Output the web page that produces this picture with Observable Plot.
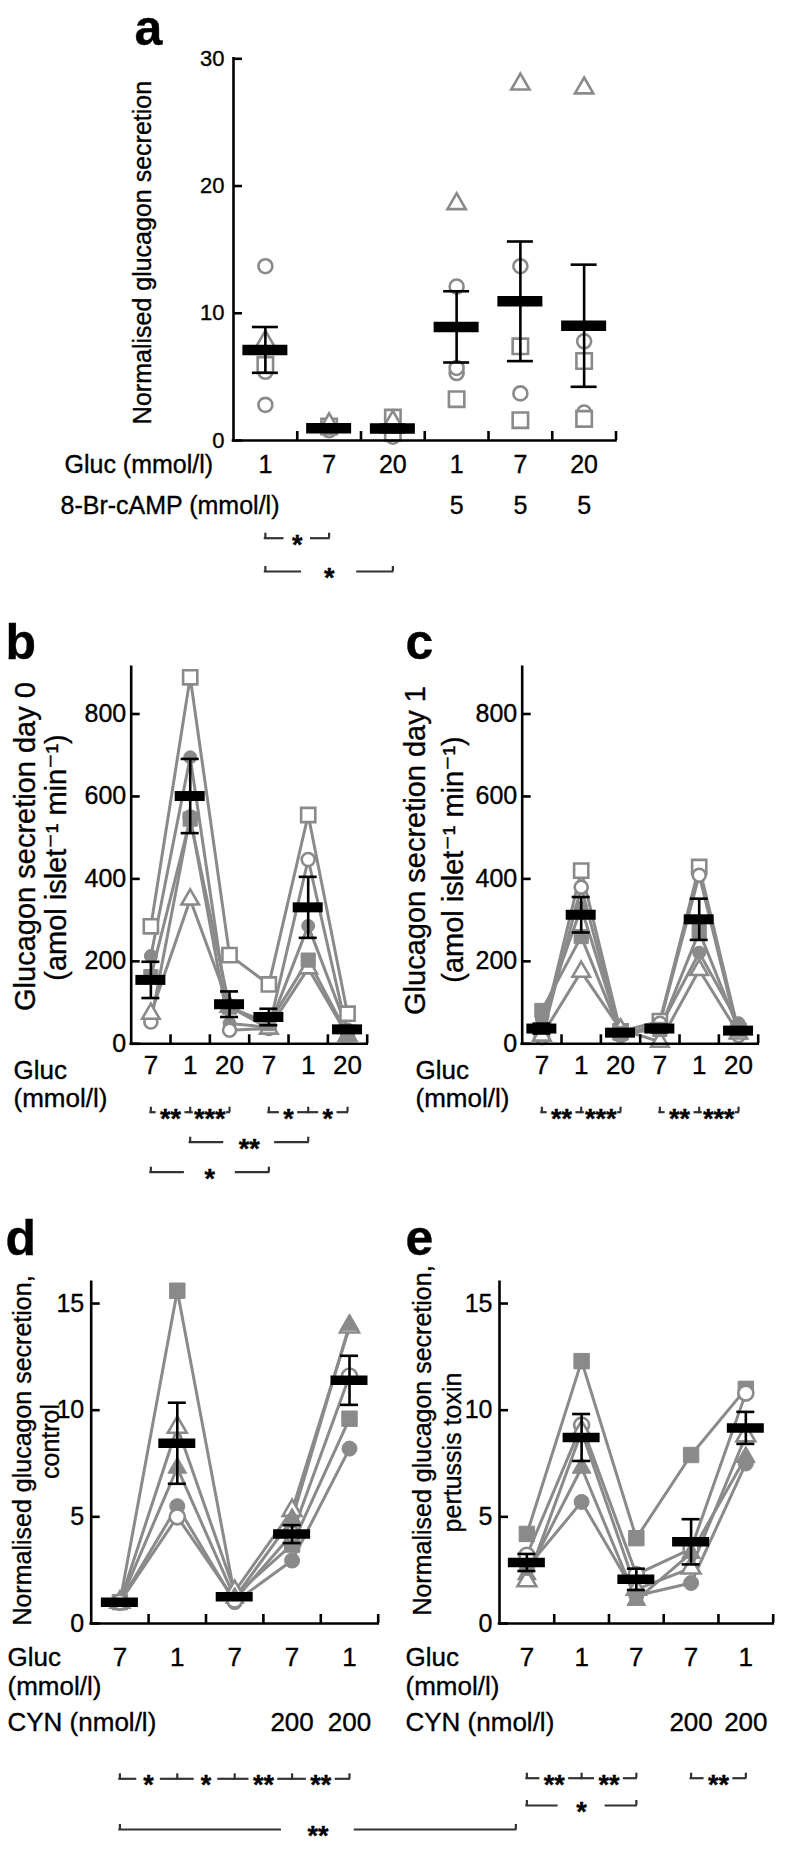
<!DOCTYPE html>
<html><head><meta charset="utf-8">
<script src="https://cdn.jsdelivr.net/npm/d3@7"></script>
<script src="https://cdn.jsdelivr.net/npm/@observablehq/plot@0.6"></script>
<style>
body{margin:0;background:#fff;}
#fig{position:relative;width:786px;height:1856px;overflow:hidden;background:#fff;}
#fig svg{position:absolute;left:0;max-width:none;}
#fig svg text{stroke:#000;stroke-width:0.35px;}
</style></head><body><div id="fig"></div>
<script>
// ---------------- data ----------------
// panel a
const aGluc = ["1","7","20","1","7","20"];
const aCamp = ["","","","5","5","5"];
const aCircles = [[13.7,2.8,5.4],[1.0,0.9,0.8],[0.3,0.9],[12.1,5.3,5.7],[13.7,3.7],[7.8,2.2]];
const aSquares = [[5.95],[1.1],[1.8,0.6],[3.25],[7.4,1.6],[6.25,1.7]];
const aTriangles = [[7.8],[1.3],[1.5],[18.6],[28.0],[27.7]];
const aMean = [7.12,0.96,0.95,8.93,10.94,9.02];
const aSem = [1.8,0.1,0.3,2.8,4.7,4.8];
const aTicks = [0,10,20,30];
// panel b (day 0)
const bGluc = ["7","1","20","7","1","20"];
const bOpenSquare = [285,889,215,144,555,73];
const bFilledCircle = [213,695,49,40,286,35];
const bOpenCircle = [53,550,33,37,447,25];
const bOpenTriangle = [73,350,90,37,183,20];
const bFilledSquare = [163,545,89,49,203,22];
const bMean = [155,601,96,65,331,35];
const bSem = [44,90,31,20,74,8];
// panel c (day 1)
const cGluc = ["7","1","20","7","1","20"];
const cOpenSquare = [25,420,30,55,429,30];
const cFilledCircle = [60,330,25,40,221,50];
const cOpenCircle = [15,380,20,50,409,20];
const cOpenTriangle = [20,175,35,5,179,25];
const cFilledSquare = [81,260,25,35,272,35];
const cMean = [37,313,27,37,302,32];
const cSem = [12,43,3,9,50,6];
const bcTicks = [0,200,400,600,800];
// panel d (control)
const dGluc = ["7","1","7","7","1"];
const dCyn = ["","","","200","200"];
const dFilledSquare = [1.0,15.6,1.3,3.7,9.6];
const dOpenTriangle = [1.0,9.2,1.5,5.3,13.9];
const dFilledTriangle = [1.0,7.3,1.2,4.9,14.0];
const dFilledCircle = [1.0,5.5,1.0,2.95,8.2];
const dOpenCircle = [1.0,5.0,1.1,4.2,11.6];
const dMean = [1.0,8.45,1.25,4.19,11.4];
const dSem = [0.05,1.9,0.12,0.42,1.15];
// panel e (pertussis toxin)
const eGluc = ["7","1","7","7","1"];
const eCyn = ["","","","200","200"];
const eFilledSquare = [4.2,12.3,4.0,7.9,11.0];
const eOpenCircle = [3.2,9.3,2.3,3.5,10.8];
const eFilledTriangle = [2.3,7.3,1.1,3.3,7.8];
const eOpenTriangle = [2.0,9.0,1.6,2.6,8.8];
const eFilledCircle = [2.6,5.7,1.3,1.9,7.5];
const eMean = [2.86,8.72,2.07,3.83,9.17];
const eSem = [0.4,1.1,0.5,1.06,0.75];
const deTicks = [0,5,10,15];
// significance brackets (group indices, star labels)
const aBrackets = [{row:0,at:[0,1],stars:["*"]},{row:1,at:[0,2],stars:["*"]}];
const bBrackets = [{row:0,at:[0,1,2],stars:["**","***"]},{row:0,at:[3,4,5],stars:["*","*"]},{row:1,at:[1,4],stars:["**"]},{row:2,at:[0,3],stars:["*"]}];
const cBrackets = [{row:0,at:[0,1,2],stars:["**","***"]},{row:0,at:[3,4,5],stars:["**","***"]}];
const dBrackets = [{row:0,at:[0,1,2,3,4],stars:["*","*","**","**"]}];
const deBracket = {stars:["**"]}; // d group 0 to e group 0
const eBrackets = [{row:0,at:[0,1,2],stars:["**","**"]},{row:0,at:[3,4],stars:["**"]},{row:1,at:[0,2],stars:["*"]}];

// ---------------- drawing ----------------
const FONT = "'Liberation Sans', Arial, Helvetica, 'DejaVu Sans', sans-serif";
const GRAY = "#8a8a8a";
const STARFS = 27;
const fig = document.getElementById("fig");

function makePanel(P) {
  const n = P.cats.length;
  const kx = (P.fx1 - P.fx0) / n;
  const ky = (P.fyB - P.fyT) / P.ymax;
  const X = px => (px - P.fx0) / kx - 0.5;
  const Y = py => (P.fyB - py) / ky;
  const ux = px => px / kx, uy = py => py / ky;
  const marks = [];
  const seriesPts = P.series.map(s => s.groups
    ? s.groups.flatMap((arr, i) => arr.map(v => ({i, v})))
    : s.vals.map((v, i) => ({i, v})));
  if (P.lines) seriesPts.forEach(pts => marks.push(Plot.line(pts, {x:"i", y:"v", stroke:GRAY, strokeWidth:3})));
  P.series.forEach((s, k) => marks.push(Plot.dot(seriesPts[k], {
    x:"i", y:"v", symbol:s.symbol, r:P.r[s.symbol],
    fill: s.filled ? GRAY : "white", stroke: GRAY, strokeWidth: s.filled ? 1 : 2.6
  })));
  const stats = P.mean.map((m, i) => ({i, m, lo: m - P.sem[i], hi: m + P.sem[i]}));
  marks.push(Plot.ruleX(stats, {x:"i", y1:"lo", y2:"hi", stroke:"black", strokeWidth:2.6}));
  for (const key of ["lo","hi"]) marks.push(Plot.ruleY(stats, {y:key, x1:d => d.i - ux(P.cap), x2:d => d.i + ux(P.cap), stroke:"black", strokeWidth:2.6}));
  marks.push(Plot.ruleY(stats, {y:"m", x1:d => d.i - ux(P.barW/2), x2:d => d.i + ux(P.barW/2), stroke:"black", strokeWidth:P.barH}));
  marks.push(Plot.ruleX([-0.5], {x:d => d, y1:() => 0, y2:() => P.ymax, stroke:"black", strokeWidth:2.6, strokeLinecap:"square"}));
  marks.push(Plot.ruleY([0], {y:d => d, x1:() => -0.5, x2:() => n - 0.5, stroke:"black", strokeWidth:2.6, strokeLinecap:"square"}));
  marks.push(Plot.ruleY(P.yticks, {y:d => d, x1:() => -0.5, x2:() => -0.5 + ux(9), stroke:"black", strokeWidth:2.6}));
  marks.push(Plot.text(P.yticks, {x:() => -0.5, y:d => d, text:d => String(d), textAnchor:"end", dx:-P.tickGap, fontSize:P.tickFs}));
  const bounds = d3.range(n).map(i => i + 0.5);
  marks.push(Plot.ruleX(bounds, {x:d => d, y1:() => 0, y2:() => uy(9), stroke:"black", strokeWidth:2.6}));
  for (const row of P.xrows) {
    const lab = row.labels.map((t, i) => ({i, t})).filter(d => d.t);
    marks.push(Plot.text(lab, {x:"i", y:() => Y(row.cy), text:"t", fontSize:P.labFs}));
  }
  for (const t of P.texts) {
    marks.push(Plot.text([t], {x:() => X(t.x), y:() => Y(t.y), text:d => d.text, textAnchor:t.anchor || "start",
      rotate:t.rotate || 0, fontSize:t.fs, fontWeight:t.weight || "normal", lineAnchor:t.line || "middle"}));
  }
  const segs = [], ticks = [], stars = [];
  for (const b of P.brackets) {
    const yb = Y(P.fyB + P.rows[b.row]);
    const xs = b.at;
    xs.forEach(x => ticks.push({x, y1:yb, y2:yb + uy(5)}));
    for (let k = 0; k < xs.length - 1; k++) {
      const xa = xs[k], xb = xs[k+1];
      const span = (xb - xa) * kx;
      const tw = b.stars[k].length * 0.389 * STARFS;
      let gap = Math.min(Math.max(0.45 * span, tw + 10), 75);
      gap = Math.min(gap, span - 4);
      const c = (xa + xb) / 2;
      segs.push({x1:xa, x2:c - ux(gap/2), y:yb}, {x1:c + ux(gap/2), x2:xb, y:yb});
      stars.push({x:c, y:yb, t:b.stars[k]});
    }
  }
  marks.push(Plot.ruleY(segs, {x1:"x1", x2:"x2", y:"y", stroke:"#333", strokeWidth:2.2, strokeLinecap:"square"}));
  marks.push(Plot.ruleX(ticks, {x:"x", y1:"y1", y2:"y2", stroke:"#333", strokeWidth:2.2}));
  marks.push(Plot.text(stars, {x:"x", y:"y", text:"t", fontSize:STARFS, fontWeight:"bold", lineAnchor:"bottom", dy:0.58 * STARFS}));

  const svg = Plot.plot({
    width: 786, height: P.svgH,
    marginLeft: P.fx0, marginRight: 786 - P.fx1,
    marginTop: P.fyT - P.svgTop, marginBottom: P.svgTop + P.svgH - P.fyB,
    x: {type:"linear", domain:[-0.5, n - 0.5], axis:null},
    y: {type:"linear", domain:[0, P.ymax], axis:null},
    style: {background:"transparent", fontFamily:FONT, overflow:"visible"},
    marks
  });
  svg.style.position = "absolute";
  svg.style.top = P.svgTop + "px";
  svg.style.left = "0px";
  fig.appendChild(svg);
}

const rA = {circle:7, square:8.7, triangle:6.8};
const rB = {circle:6.5, square:8, triangle:6.5};
const rD = {circle:7.5, square:8.7, triangle:7};

makePanel({
  cats:aGluc, svgTop:0, svgH:600, fx0:233, fx1:615.5, fyT:58.3, fyB:440, ymax:30,
  series:[{groups:aCircles,symbol:"circle"},{groups:aSquares,symbol:"square"},{groups:aTriangles,symbol:"triangle"}],
  lines:false, r:rA, mean:aMean, sem:aSem, cap:13, barW:45, barH:10.5,
  yticks:aTicks, tickGap:9, tickFs:22, labFs:25,
  xrows:[{labels:aGluc, cy:464},{labels:aCamp, cy:505}],
  texts:[
    {text:"a", x:134, y:44, fs:50, weight:"bold", line:"bottom"},
    {text:"Normalised glucagon secretion", x:142, y:252, fs:25, rotate:-90, anchor:"middle"},
    {text:"Gluc (mmol/l)", x:64, y:464, fs:25},
    {text:"8-Br-cAMP (mmol/l)", x:60, y:505, fs:25}
  ],
  rows:[97.7, 131], brackets:aBrackets
});

makePanel({
  cats:bGluc, svgTop:580, svgH:620, fx0:130.7, fx1:366.7, fyT:666.7, fyB:1043.3, ymax:913.5,
  series:[{vals:bOpenSquare,symbol:"square"},{vals:bFilledCircle,symbol:"circle",filled:true},{vals:bOpenCircle,symbol:"circle"},{vals:bOpenTriangle,symbol:"triangle"},{vals:bFilledSquare,symbol:"square",filled:true}],
  lines:true, r:rB, mean:bMean, sem:bSem, cap:9, barW:30, barH:10,
  yticks:bcTicks, tickGap:5, tickFs:25, labFs:26,
  xrows:[{labels:bGluc, cy:1065}],
  texts:[
    {text:"b", x:5, y:658, fs:50, weight:"bold", line:"bottom"},
    {text:"Glucagon secretion day 0", x:25, y:846, fs:29, rotate:-90, anchor:"middle"},
    {text:"(amol islet\u207B\u00B9 min\u207B\u00B9)", x:56, y:857, fs:29, rotate:-90, anchor:"middle"},
    {text:"Gluc", x:13, y:1070, fs:26},
    {text:"(mmol/l)", x:13, y:1098, fs:26}
  ],
  rows:[68.4, 98.4, 128.4], brackets:bBrackets
});

makePanel({
  cats:cGluc, svgTop:580, svgH:620, fx0:521.7, fx1:757.7, fyT:666.7, fyB:1043.3, ymax:913.5,
  series:[{vals:cOpenSquare,symbol:"square"},{vals:cFilledCircle,symbol:"circle",filled:true},{vals:cOpenCircle,symbol:"circle"},{vals:cOpenTriangle,symbol:"triangle"},{vals:cFilledSquare,symbol:"square",filled:true}],
  lines:true, r:rB, mean:cMean, sem:cSem, cap:9, barW:30, barH:10,
  yticks:bcTicks, tickGap:5, tickFs:25, labFs:26,
  xrows:[{labels:cGluc, cy:1065}],
  texts:[
    {text:"c", x:405, y:658, fs:50, weight:"bold", line:"bottom"},
    {text:"Glucagon secretion day 1", x:415, y:850, fs:29, rotate:-90, anchor:"middle"},
    {text:"(amol islet\u207B\u00B9 min\u207B\u00B9)", x:453, y:859, fs:29, rotate:-90, anchor:"middle"},
    {text:"Gluc", x:415, y:1070, fs:26},
    {text:"(mmol/l)", x:415, y:1098, fs:26}
  ],
  rows:[68.4], brackets:cBrackets
});

const ePanelCfg = {
  cats:eGluc, svgTop:1200, svgH:656, fx0:499, fx1:772.7, fyT:1281.7, fyB:1623, ymax:16,
  series:[{vals:eFilledSquare,symbol:"square",filled:true},{vals:eOpenCircle,symbol:"circle"},{vals:eFilledTriangle,symbol:"triangle",filled:true},{vals:eOpenTriangle,symbol:"triangle"},{vals:eFilledCircle,symbol:"circle",filled:true}],
  lines:true, r:rD, mean:eMean, sem:eSem, cap:9, barW:37, barH:9.5,
  yticks:deTicks, tickGap:7, tickFs:25, labFs:26,
  xrows:[{labels:eGluc, cy:1657},{labels:eCyn, cy:1722}],
  texts:[
    {text:"e", x:405, y:1254, fs:50, weight:"bold", line:"bottom"},
    {text:"Normalised glucagon secretion,", x:422, y:1440, fs:25, rotate:-90, anchor:"middle"},
    {text:"pertussis toxin", x:452, y:1452, fs:25, rotate:-90, anchor:"middle"},
    {text:"Gluc", x:405, y:1657, fs:26},
    {text:"(mmol/l)", x:405, y:1686, fs:26},
    {text:"CYN (nmol/l)", x:405, y:1722, fs:26}
  ],
  rows:[154.7, 182], brackets:eBrackets
};
const dFx0 = 90.7, dFx1 = 377.7;
const dKx = (dFx1 - dFx0) / dGluc.length;
const eKx = (ePanelCfg.fx1 - ePanelCfg.fx0) / eGluc.length;
const eFirstInD = (ePanelCfg.fx0 + 0.5 * eKx - 11 - dFx0) / dKx - 0.5;

makePanel({
  cats:dGluc, svgTop:1200, svgH:656, fx0:dFx0, fx1:dFx1, fyT:1281.7, fyB:1623, ymax:16,
  series:[{vals:dFilledSquare,symbol:"square",filled:true},{vals:dOpenTriangle,symbol:"triangle"},{vals:dFilledTriangle,symbol:"triangle",filled:true},{vals:dFilledCircle,symbol:"circle",filled:true},{vals:dOpenCircle,symbol:"circle"}],
  lines:true, r:rD, mean:dMean, sem:dSem, cap:9, barW:37, barH:9.5,
  yticks:deTicks, tickGap:7, tickFs:25, labFs:26,
  xrows:[{labels:dGluc, cy:1657},{labels:dCyn, cy:1722}],
  texts:[
    {text:"d", x:5, y:1254, fs:50, weight:"bold", line:"bottom"},
    {text:"Normalised glucagon secretion,", x:22, y:1450, fs:25, rotate:-90, anchor:"middle"},
    {text:"control", x:50, y:1441, fs:25, rotate:-90, anchor:"middle"},
    {text:"Gluc", x:7, y:1657, fs:26},
    {text:"(mmol/l)", x:7, y:1686, fs:26},
    {text:"CYN (nmol/l)", x:7, y:1722, fs:26}
  ],
  rows:[155.3, 206], brackets:[...dBrackets, {row:1, at:[0, eFirstInD], stars:deBracket.stars}]
});
makePanel(ePanelCfg);
</script></body></html>
